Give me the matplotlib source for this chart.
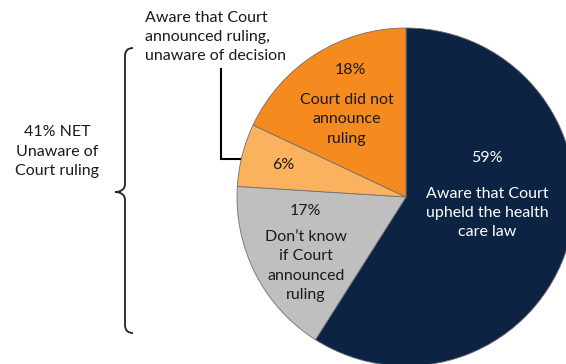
import matplotlib.pyplot as plt
from matplotlib.path import Path
from matplotlib.patches import PathPatch

# survey shares, clockwise from 12 o'clock
shares = [59, 17, 6, 18]
slice_colors = ["#0c2344", "#bfbfbf", "#fbb25e", "#f58a1f"]
pct_labels = ["59%", "17%", "6%", "18%"]
desc_labels = ["Aware that Court\nupheld the health\ncare law",
               "Don\u2019t know\nif Court\nannounced\nruling",
               "",
               "Court did not\nannounce\nruling"]
net_label = "41% NET\nUnaware of\nCourt ruling"
callout = "Aware that Court\nannounced ruling,\nunaware of decision"

W, H = 566, 364
plt.rcParams["font.family"] = ["Lato", "DejaVu Sans"]

fig = plt.figure(figsize=(W / 100, H / 100), dpi=100)
ax = fig.add_axes([0, 0, 1, 1])

def Y(y):
    return H - y

cx, cy, r = 406, Y(197), 169
ax.pie(shares, colors=slice_colors, startangle=90, counterclock=False,
       center=(cx, cy), radius=r,
       wedgeprops=dict(edgecolor="#6f6f6f", linewidth=0.6))

fs = 11.5
ls = 1.5
txt = "#1a1a1a"
# slice labels
ax.text(487, Y(158), pct_labels[0], color="white", ha="center", va="center", fontsize=fs)
ax.text(487, Y(213), desc_labels[0], color="white", ha="center", va="center",
        fontsize=fs, linespacing=ls)
ax.text(305, Y(211), pct_labels[1], color=txt, ha="center", va="center", fontsize=fs)
ax.text(306, Y(266), desc_labels[1], color=txt, ha="center", va="center",
        fontsize=fs, linespacing=ls)
ax.text(283, Y(165), pct_labels[2], color=txt, ha="center", va="center", fontsize=fs)
ax.text(350, Y(70), pct_labels[3], color=txt, ha="center", va="center", fontsize=fs)
ax.text(347, Y(119), desc_labels[3], color=txt, ha="center", va="center",
        fontsize=fs, linespacing=ls)

# callout for the 6% slice
ax.text(145, Y(37), callout, color=txt, ha="left", va="center",
        fontsize=fs, linespacing=ls)
ax.plot([221, 221, 240], [Y(69), Y(159), Y(159)], color="black", lw=1.5,
        solid_joinstyle="miter")

# NET group label with curly brace
ax.text(57, Y(152), net_label, color=txt, ha="center", va="center",
        fontsize=fs, linespacing=ls)
verts = [(133, 48), (125, 48), (125, 56),
         (125, 184),
         (125, 191), (118, 192), (115, 192),
         (118, 192), (125, 193), (125, 200),
         (125, 325),
         (125, 333), (133, 333)]
verts = [(x, Y(y)) for x, y in verts]
codes = [Path.MOVETO, Path.CURVE3, Path.CURVE3,
         Path.LINETO,
         Path.CURVE4, Path.CURVE4, Path.CURVE4,
         Path.CURVE4, Path.CURVE4, Path.CURVE4,
         Path.LINETO,
         Path.CURVE3, Path.CURVE3]
ax.add_patch(PathPatch(Path(verts, codes), fill=False, edgecolor="#222222", lw=1.3))

ax.set_xlim(0, W)
ax.set_ylim(0, H)
ax.set_aspect("auto")
ax.axis("off")
fig.savefig("out.png", dpi=100)
